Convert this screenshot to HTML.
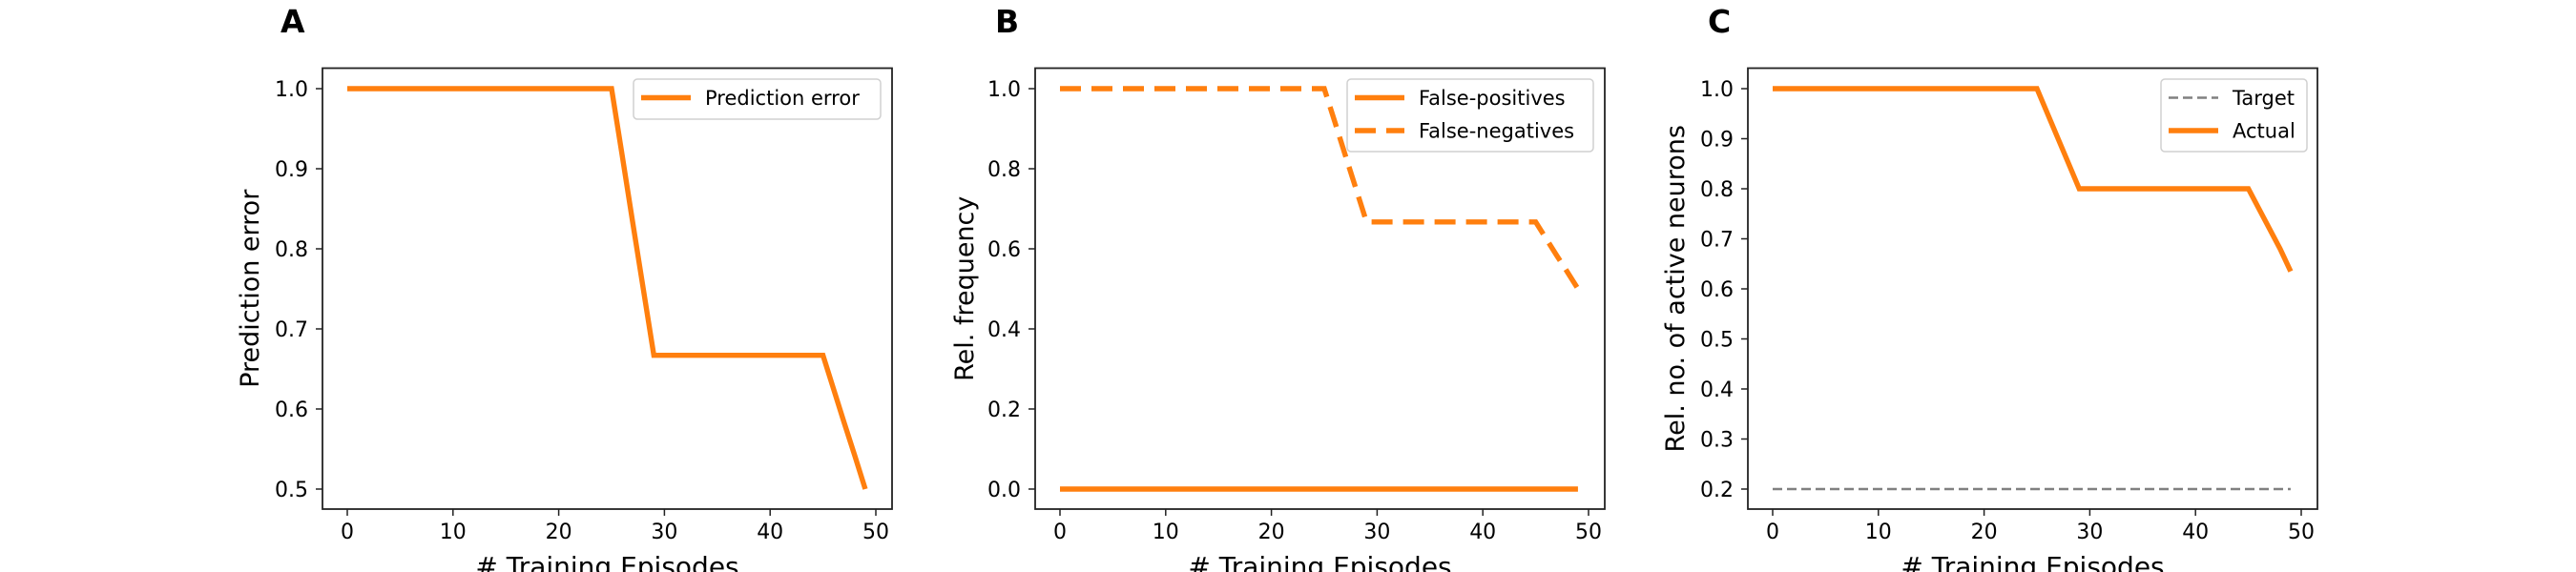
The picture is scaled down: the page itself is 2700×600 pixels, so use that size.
<!DOCTYPE html>
<html><head><meta charset="utf-8"><style>
html,body{margin:0;padding:0;background:#fff;}
svg{display:block;font-family:"DejaVu Sans","Liberation Sans",sans-serif;}
</style></head><body>
<svg id="fig" width="2700" height="600" viewBox="0 0 2700 600" xmlns="http://www.w3.org/2000/svg"></svg>
<script>
const episodes = Array.from({length:50},(_,i)=>i);
const predError = [1,1,1,1,1,1,1,1,1,1,1,1,1,1,1,1,1,1,1,1,1,1,1,1,1,1,0.917,0.833,0.75,0.667,0.667,0.667,0.667,0.667,0.667,0.667,0.667,0.667,0.667,0.667,0.667,0.667,0.667,0.667,0.667,0.667,0.625,0.583,0.542,0.5];
const falsePos = [0,0,0,0,0,0,0,0,0,0,0,0,0,0,0,0,0,0,0,0,0,0,0,0,0,0,0,0,0,0,0,0,0,0,0,0,0,0,0,0,0,0,0,0,0,0,0,0,0,0];
const falseNeg = [1,1,1,1,1,1,1,1,1,1,1,1,1,1,1,1,1,1,1,1,1,1,1,1,1,1,0.917,0.833,0.75,0.667,0.667,0.667,0.667,0.667,0.667,0.667,0.667,0.667,0.667,0.667,0.667,0.667,0.667,0.667,0.667,0.667,0.625,0.583,0.542,0.5];
const targetVals = [0.2,0.2,0.2,0.2,0.2,0.2,0.2,0.2,0.2,0.2,0.2,0.2,0.2,0.2,0.2,0.2,0.2,0.2,0.2,0.2,0.2,0.2,0.2,0.2,0.2,0.2,0.2,0.2,0.2,0.2,0.2,0.2,0.2,0.2,0.2,0.2,0.2,0.2,0.2,0.2,0.2,0.2,0.2,0.2,0.2,0.2,0.2,0.2,0.2,0.2];
const actualVals = [1,1,1,1,1,1,1,1,1,1,1,1,1,1,1,1,1,1,1,1,1,1,1,1,1,1,0.95,0.9,0.85,0.8,0.8,0.8,0.8,0.8,0.8,0.8,0.8,0.8,0.8,0.8,0.8,0.8,0.8,0.8,0.8,0.8,0.76,0.72,0.68,0.635];
const xTicks = [0,10,20,30,40,50];
const yTicksA = [0.5,0.6,0.7,0.8,0.9,1.0];
const yTicksB = [0.0,0.2,0.4,0.6,0.8,1.0];
const yTicksC = [0.2,0.3,0.4,0.5,0.6,0.7,0.8,0.9,1.0];

const NS="http://www.w3.org/2000/svg";
const svg=document.getElementById('fig');
function mk(tag,attrs,parent,text){const e=document.createElementNS(NS,tag);for(const k in attrs)e.setAttribute(k,attrs[k]);if(text!==undefined)e.textContent=text;(parent||svg).appendChild(e);return e;}
const ORANGE="#ff7f0e";
const TOP=71.5,BOT=534,W=597;

function panel(cfg){
  const g=mk('g',{});
  
  
  const L=cfg.left;
  const xs=v=>L+26+(v/50)*554;
  const ys=v=>93+(cfg.ymax-v)/(cfg.ymax-cfg.ymin)*420;
  const letter=mk('text',{x:cfg.lx,y:34,'font-size':33,'font-weight':'bold'},g,cfg.letter);
  
  
  const plotBg=mk('rect',{x:L,y:TOP,width:W,height:BOT-TOP,fill:'#fff'},g);
  
  
  cfg.series.forEach(s=>{
    const d=episodes.map((e,i)=>(i?'L':'M')+xs(e).toFixed(2)+' '+ys(s.vals[i]).toFixed(2)).join(' ');
    const p=mk('path',{d:d,fill:'none',stroke:s.color,'stroke-width':s.w,'stroke-dasharray':s.dash||'none'},g);
    
    
  });
  const frame=mk('rect',{x:L,y:TOP,width:W,height:BOT-TOP,fill:'none',stroke:'#222','stroke-width':1.8},g);
  
  
  xTicks.forEach(t=>{
    const x=xs(t);
    mk('line',{x1:x,y1:BOT,x2:x,y2:BOT+7,stroke:'#222','stroke-width':1.5},g);
    const tx=mk('text',{x:x,y:BOT+31,'font-size':22,'text-anchor':'middle'},g,String(t));
    
    
  });
  cfg.yticks.forEach(t=>{
    const y=ys(t);
    mk('line',{x1:L,y1:y,x2:L-7,y2:y,stroke:'#222','stroke-width':1.5},g);
    const ty=mk('text',{x:L-15,y:y+8,'font-size':22,'text-anchor':'end'},g,t.toFixed(1));
    
    
  });
  const xl=mk('text',{x:L+W/2,y:604,'font-size':28,'text-anchor':'middle'},g,'# Training Episodes');
  
  
  const yl=mk('text',{x:0,y:0,'font-size':27,'text-anchor':'middle',transform:`translate(${cfg.ylx},${(TOP+BOT)/2+cfg.yoff}) rotate(-90)`},g,cfg.ylabel);
  
  
  const lg=mk('g',{},g);
  
  
  const n=cfg.series.length;
  const lh=n===1?42:76;
  mk('rect',{x:cfg.legX,y:83,width:cfg.legW,height:lh,rx:4,fill:'#fff','fill-opacity':0.85,stroke:'#d0d0d0','stroke-width':1.5},lg);
  cfg.legend.forEach((s,i)=>{
    const cy=102.5+i*34.5;
    const hx=cfg.legX+8;
    mk('line',{x1:hx,y1:cy,x2:hx+52,y2:cy,stroke:s.color,'stroke-width':s.w,'stroke-dasharray':s.ldash||'none'},lg);
    const lt=mk('text',{x:hx+67,y:cy+7.5,'font-size':21},lg,s.label);
    
    
  });
}

const sA={vals:predError,color:ORANGE,w:5.4,label:'Prediction error',dname:'prediction-error-line'};
panel({name:'panel-a',letter:'A',lx:294,left:338,ymin:0.5,ymax:1.0,yticks:yTicksA,ylabel:'Prediction error',ylx:271,yoff:0,legX:664,legW:259,series:[sA],legend:[sA]});
const sFP={vals:falsePos,color:ORANGE,w:5.4,label:'False-positives',dname:'false-positives-line'};
const sFN={vals:falseNeg,color:ORANGE,w:5.4,dash:'22 11',ldash:'22 11',label:'False-negatives',dname:'false-negatives-line'};
panel({name:'panel-b',letter:'B',lx:1043,left:1085,ymin:0,ymax:1.0,yticks:yTicksB,ylabel:'Rel. frequency',ylx:1020,yoff:0,legX:1412,legW:258,series:[sFP,sFN],legend:[sFP,sFN]});
const sT={vals:targetVals,color:'#808080',w:2.6,dash:'10 5',ldash:'10 5',label:'Target',dname:'target-line'};
const sAc={vals:actualVals,color:ORANGE,w:5.4,label:'Actual',dname:'actual-line'};
panel({name:'panel-c',letter:'C',lx:1790,left:1832,ymin:0.2,ymax:1.0,yticks:yTicksC,ylabel:'Rel. no. of active neurons',ylx:1765,yoff:0,legX:2265,legW:153,series:[sT,sAc],legend:[sT,sAc]});
</script>
</body></html>
